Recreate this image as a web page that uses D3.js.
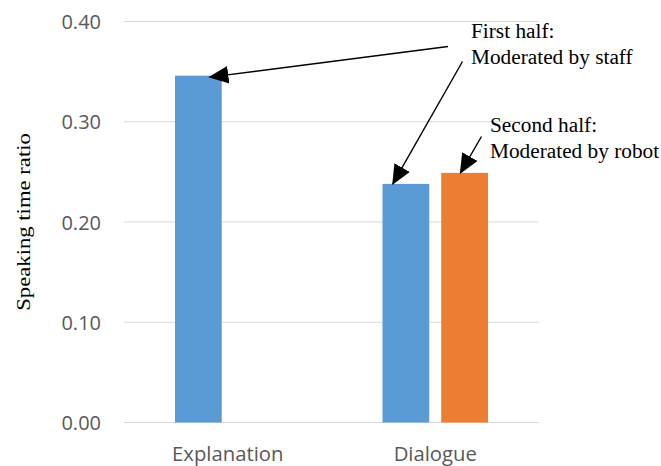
<!DOCTYPE html>
<html>
<head>
<meta charset="utf-8">
<script src="https://cdn.jsdelivr.net/npm/d3@7"></script>
<style>
  html, body { margin: 0; padding: 0; background: #fff; }
  svg { display: block; }
</style>
</head>
<body>
<svg id="chart" width="661" height="466"></svg>
<script>
// Speaking time ratio per session phase
const categories = ["Explanation", "Dialogue"];
const seriesNames = ["First half", "Second half"];
const firstHalf = [0.346, 0.238];
const secondHalf = [null, 0.249];
const yTicks = [0, 0.1, 0.2, 0.3, 0.4];
const colors = ["#5B9BD5", "#ED7D31"];

const svg = d3.select("#chart");
const plot = { left: 124, right: 539, top: 21.5, bottom: 422.5 };

const x0 = d3.scaleBand().domain(categories).range([plot.left, plot.right]).padding(0);
const groupPad = 51;
const x1 = d3.scaleBand().domain(seriesNames)
  .range([groupPad, x0.bandwidth() - groupPad])
  .paddingInner(0.2044).paddingOuter(0);
const y = d3.scaleLinear().domain([0, 0.4]).range([plot.bottom, plot.top]);

// gridlines
svg.append("g").selectAll("line").data(yTicks).join("line")
  .attr("x1", plot.left).attr("x2", plot.right)
  .attr("y1", d => y(d)).attr("y2", d => y(d))
  .attr("stroke", "#D9D9D9").attr("stroke-width", 1.2);

// y axis tick labels
const yAxis = d3.axisLeft(y).tickValues(yTicks).tickFormat(d3.format(".2f")).tickSize(0).tickPadding(0);
const gy = svg.append("g").attr("transform", "translate(101,0)").call(yAxis);
gy.select(".domain").remove();
gy.selectAll("text")
  .attr("font-family", "'Open Sans', sans-serif").attr("font-size", 20)
  .attr("fill", "#595959").attr("dy", "0.36em");

// x axis category labels
const xAxis = d3.axisBottom(x0).tickSize(0).tickPadding(0);
const gx = svg.append("g").attr("transform", "translate(0,461)").call(xAxis);
gx.select(".domain").remove();
gx.selectAll("text")
  .attr("font-family", "'Open Sans', sans-serif").attr("font-size", 20.3)
  .attr("fill", "#595959").attr("dy", 0);

// bars
const rows = categories.map((c, i) => ({ c, vals: [firstHalf[i], secondHalf[i]] }));
const groups = svg.append("g").selectAll("g").data(rows).join("g")
  .attr("transform", d => `translate(${x0(d.c)},0)`);
groups.selectAll("rect")
  .data(d => d.vals.map((v, j) => ({ s: seriesNames[j], v, j })).filter(e => e.v != null))
  .join("rect")
  .attr("x", d => x1(d.s))
  .attr("width", x1.bandwidth())
  .attr("y", d => y(d.v))
  .attr("height", d => y(0) - y(d.v))
  .attr("fill", d => colors[d.j]);

const serif = "'Liberation Serif', 'Times New Roman', serif";

// widen serif text horizontally by a fixed factor
function widen(sel, factor) {
  sel.each(function () {
    const n = this.getComputedTextLength();
    d3.select(this).attr("textLength", n * factor).attr("lengthAdjust", "spacingAndGlyphs");
  });
}

// y axis title
const title = svg.append("text")
  .attr("transform", "translate(30,222) rotate(-90)")
  .attr("text-anchor", "middle")
  .attr("font-family", serif)
  .attr("font-size", 18)
  .attr("fill", "#000")
  .text("Speaking time ratio");
widen(title, 1.26);

// annotations
function label(xp, yp, lines) {
  const t = svg.append("text").attr("font-family", serif).attr("font-size", 20).attr("fill", "#000");
  lines.forEach((l, i) => t.append("tspan").attr("x", xp).attr("y", yp + i * 26).text(l));
  widen(t.selectAll("tspan"), 1.065);
}
label(471, 38, ["First half:", "Moderated by staff"]);
label(490, 131.5, ["Second half:", "Moderated by robot"]);

svg.append("defs").append("marker")
  .attr("id", "head").attr("markerUnits", "userSpaceOnUse")
  .attr("markerWidth", 20).attr("markerHeight", 20)
  .attr("viewBox", "0 -8 17 16").attr("refX", 16).attr("refY", 0)
  .attr("orient", "auto")
  .append("path").attr("d", "M0,-7.5L17,0L0,7.5Z").attr("fill", "#000");

const bw = x1.bandwidth();
const barX = (ci, sj) => x0(categories[ci]) + x1(seriesNames[sj]);
const arrows = [
  { from: [448, 46.5], to: [barX(0, 0) + bw * 0.74, y(firstHalf[0]) + 1.5] },
  { from: [462.5, 61.5], to: [barX(1, 0) + bw * 0.22, y(firstHalf[1])] },
  { from: [481.5, 136.5], to: [barX(1, 1) + bw * 0.41, y(secondHalf[1])] }
];
svg.append("g").selectAll("line").data(arrows).join("line")
  .attr("x1", d => d.from[0]).attr("y1", d => d.from[1])
  .attr("x2", d => d.to[0]).attr("y2", d => d.to[1])
  .attr("stroke", "#000").attr("stroke-width", 1.4)
  .attr("marker-end", "url(#head)");
</script>
</body>
</html>
